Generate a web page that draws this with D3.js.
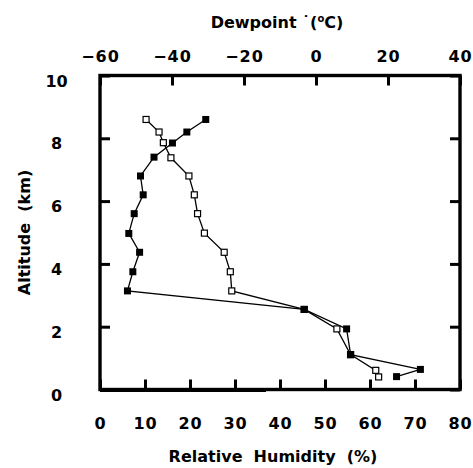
<!DOCTYPE html>
<html><head><meta charset="utf-8">
<script src="https://cdn.jsdelivr.net/npm/d3@7"></script>
<style>
html,body{margin:0;padding:0;background:#fff;}
svg{display:block;}
text{font-family:"DejaVu Sans",sans-serif;font-weight:bold;fill:#000;}
</style></head>
<body><svg id="c" width="473" height="468"></svg>
<script>
// Relative humidity profile (filled squares, bottom axis)
const rhAltitude = [8.6, 8.2, 7.85, 7.4, 6.8, 6.2, 5.6, 4.97, 4.37, 3.75, 3.14, 2.55, 1.93, 1.11, 0.64, 0.41];
const rhValues   = [23.5, 19.3, 16.1, 12.0, 9.0, 9.6, 7.6, 6.4, 8.8, 7.3, 6.1, 45.4, 54.8, 55.7, 71.2, 65.9];
// Dewpoint profile (open squares, top axis)
const dpAltitude = [8.6, 8.2, 7.86, 7.38, 6.8, 6.2, 5.6, 4.98, 4.37, 3.75, 3.14, 2.55, 1.93, 1.11, 0.61, 0.40];
const dpValues   = [-47.2, -43.6, -42.4, -40.3, -35.3, -33.8, -32.9, -31.0, -25.5, -23.8, -23.4, -3.3, 5.8, 9.6, 16.6, 17.4];
// Tick values
const rhTicks  = [0, 10, 20, 30, 40, 50, 60, 70, 80];
const dpTicks  = [-60, -40, -20, 0, 20, 40];
const altTicks = [0, 2, 4, 6, 8, 10];

const L = 100, R = 460, T = 75.5, B = 389.5;
const svg = d3.select("#c");
const x = d3.scaleLinear().domain([0, 80]).range([L, R]);
const xTop = d3.scaleLinear().domain([-60, 40]).range([L, R]);
const y = d3.scaleLinear().domain([0, 10]).range([B, T]);

function styleAxis(g){
  g.select(".domain").remove();
  g.selectAll(".tick line").attr("stroke", "#000").attr("stroke-width", 3);
  g.selectAll("text").attr("font-size", 16).attr("font-family", "DejaVu Sans").attr("font-weight", "bold");
}

// bottom axis
const gb = svg.append("g").attr("transform", `translate(0,${B})`)
  .call(d3.axisBottom(x).tickValues(rhTicks).tickSizeInner(-10).tickSizeOuter(0).tickPadding(28).tickFormat(d3.format("d")));
styleAxis(gb);
gb.selectAll("text").attr("letter-spacing", 1);

// top axis
const gt = svg.append("g").attr("transform", `translate(0,${T})`)
  .call(d3.axisTop(xTop).tickValues(dpTicks).tickSizeInner(-10).tickSizeOuter(0).tickPadding(14).tickFormat(d3.format("d")));
styleAxis(gt);
gt.selectAll("text").attr("letter-spacing", 1);

// left axis
const gl = svg.append("g").attr("transform", `translate(${L},0)`)
  .call(d3.axisLeft(y).tickValues(altTicks).tickSizeInner(-10).tickSizeOuter(0).tickFormat(d3.format("d")));
styleAxis(gl);
gl.selectAll("text").attr("text-anchor", "middle").attr("x", -43.5).attr("dy", null).attr("y", 10.5);

// right axis (ticks only)
const gr = svg.append("g").attr("transform", `translate(${R},0)`)
  .call(d3.axisRight(y).tickValues(altTicks).tickSizeInner(-10).tickSizeOuter(0).tickFormat(""));
styleAxis(gr);

// frame
svg.append("rect").attr("x", L).attr("y", T).attr("width", R - L).attr("height", B - T)
  .attr("fill", "none").attr("stroke", "#000").attr("stroke-width", 3.4);
svg.append("line").attr("x1", L).attr("x2", 266).attr("y1", B + 1.6).attr("y2", B + 1.6)
  .attr("stroke", "#000").attr("stroke-width", 2);

// data lines
const rhData = rhValues.map((v, i) => [v, rhAltitude[i]]);
const dpData = dpValues.map((v, i) => [v, dpAltitude[i]]);
const lineRH = d3.line().x(d => x(d[0])).y(d => y(d[1]));
const lineDP = d3.line().x(d => xTop(d[0])).y(d => y(d[1]));
svg.append("path").attr("d", lineDP(dpData)).attr("fill", "none").attr("stroke", "#000").attr("stroke-width", 1.3);
svg.append("path").attr("d", lineRH(rhData)).attr("fill", "none").attr("stroke", "#000").attr("stroke-width", 1.3);

// markers
const so = 6;
svg.append("g").selectAll("rect").data(dpData).join("rect")
  .attr("x", d => xTop(d[0]) - so / 2).attr("y", d => y(d[1]) - so / 2)
  .attr("width", so).attr("height", so).attr("fill", "#fff").attr("stroke", "#000").attr("stroke-width", 1.2);
const sf = 7;
svg.append("g").selectAll("rect").data(rhData).join("rect")
  .attr("x", d => x(d[0]) - sf / 2).attr("y", d => y(d[1]) - sf / 2)
  .attr("width", sf).attr("height", sf).attr("fill", "#000");

// titles
const tt = svg.append("text").attr("x", 277).attr("y", 28).attr("text-anchor", "middle")
  .attr("font-size", 16);
tt.append("tspan").text("Dewpoint \u02D9(");
tt.append("tspan").attr("font-size", 10).attr("dy", -6).text("o");
tt.append("tspan").attr("dy", 6).text("C)");

svg.append("text").attr("x", 273).attr("y", 462).attr("text-anchor", "middle")
  .attr("font-size", 16).attr("xml:space", "preserve").style("white-space", "pre").text("Relative  Humidity  (%)");

svg.append("text").attr("transform", `translate(30,${(T + B) / 2}) rotate(-90)`).attr("text-anchor", "middle")
  .attr("font-size", 16).style("white-space", "pre").text("Altitude  (km)");
</script></body></html>
